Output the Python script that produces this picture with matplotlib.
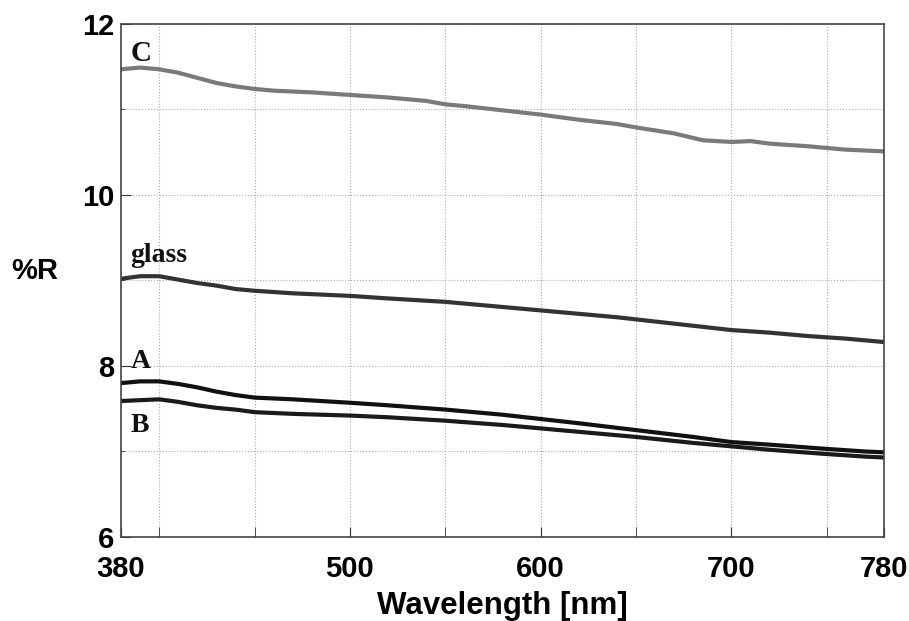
import matplotlib
matplotlib.use("Agg")
import matplotlib.pyplot as plt

# wavelengths [nm] and reflectance values
wl_c = [380, 390, 400, 410, 420, 430, 440, 450, 460, 480, 500, 520, 540, 550, 560, 580,
        600, 620, 640, 650, 670, 685, 700, 710, 720, 740, 750, 760, 780]
r_c = [11.47, 11.49, 11.47, 11.43, 11.37, 11.31, 11.27, 11.24, 11.22, 11.20, 11.17, 11.14,
       11.10, 11.06, 11.04, 10.99, 10.94, 10.88, 10.83, 10.79, 10.72, 10.64, 10.62, 10.63,
       10.60, 10.57, 10.55, 10.53, 10.51]

wl_g = [380, 390, 400, 410, 420, 430, 440, 450, 470, 500, 520, 550, 560, 580, 600, 620,
        640, 660, 680, 700, 720, 740, 760, 780]
r_glass = [9.02, 9.05, 9.05, 9.01, 8.97, 8.94, 8.90, 8.88, 8.85, 8.82, 8.79, 8.75, 8.73,
           8.69, 8.65, 8.61, 8.57, 8.52, 8.47, 8.42, 8.39, 8.35, 8.32, 8.28]

wl_ab = [380, 390, 400, 410, 420, 430, 440, 450, 470, 500, 520, 550, 580, 600, 620, 650,
         680, 700, 720, 750, 770, 780]
r_a = [7.80, 7.82, 7.82, 7.79, 7.75, 7.70, 7.66, 7.63, 7.61, 7.57, 7.54, 7.49, 7.43, 7.38,
       7.33, 7.25, 7.17, 7.11, 7.08, 7.03, 7.00, 6.99]
r_b = [7.59, 7.60, 7.61, 7.58, 7.54, 7.51, 7.49, 7.46, 7.44, 7.42, 7.40, 7.36, 7.31, 7.27,
       7.23, 7.17, 7.10, 7.06, 7.02, 6.97, 6.94, 6.93]

xticks = [380, 500, 600, 700, 780]
xminor = [400, 450, 550, 650, 750]
yticks = [6, 8, 10, 12]
yminor = [7, 9, 11]

fig = plt.figure(figsize=(9.09, 6.21), dpi=100)
ax = fig.add_axes([0.1331, 0.1353, 0.8394, 0.8261])

ax.plot(wl_c, r_c, color="#7a7a7a", lw=3)
ax.plot(wl_g, r_glass, color="#333333", lw=3)
ax.plot(wl_ab, r_a, color="#111111", lw=3)
ax.plot(wl_ab, r_b, color="#1a1a1a", lw=3)

ax.set_xlim(380, 780)
ax.set_ylim(6, 12)
ax.set_xticks(xticks)
ax.set_xticks(xminor, minor=True)
ax.set_yticks(yticks)
ax.set_yticks(yminor, minor=True)
ax.grid(True, which="both", color="#aaaaaa", linestyle=":", linewidth=0.8)

for lab in ax.get_xticklabels() + ax.get_yticklabels():
    lab.set_fontfamily("Liberation Sans")
    lab.set_fontweight("bold")
    lab.set_fontsize(21)
ax.tick_params(axis="x", which="both", direction="in", length=7, pad=13, colors="#333333", labelcolor="black")
ax.tick_params(axis="y", which="major", direction="in", length=7, pad=5, colors="#333333", labelcolor="black")
ax.tick_params(axis="y", which="minor", direction="in", length=3, colors="#333333")
for s in ax.spines.values():
    s.set_color("#444444")
    s.set_linewidth(1.2)

serif = dict(family="Liberation Serif", fontweight="bold", color="#111111")
ax.text(385, 11.57, "C", fontsize=21, **serif)
ax.text(385, 9.22, "glass", fontsize=20, **serif)
ax.text(385, 7.98, "A", fontsize=20, **serif)
ax.text(385, 7.23, "B", fontsize=20, **serif)

fig.text(0.012, 0.563, "%R", fontsize=21, fontweight="bold", family="Liberation Sans", va="center")
ax.set_xlabel("Wavelength [nm]", fontsize=22.5, fontweight="bold", family="Liberation Sans", labelpad=6)

fig.savefig("out.png", dpi=100)
